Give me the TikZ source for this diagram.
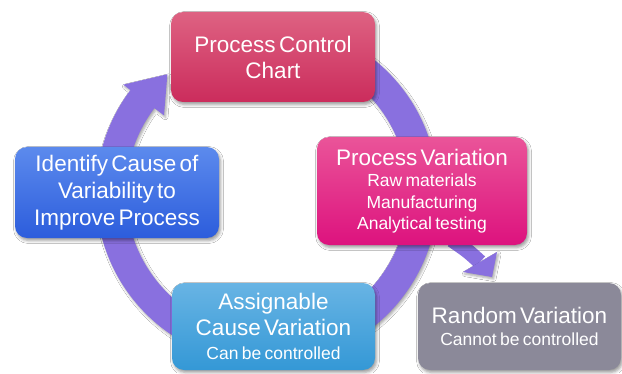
\documentclass[tikz,border=0pt]{standalone}
\usepackage{fontspec}
\setmainfont[WordSpace=1.3]{Liberation Sans}
\usetikzlibrary{shadows.blur,calc}
\definecolor{ringc}{RGB}{137,112,223}
\definecolor{pcctop}{RGB}{222,98,130}
\definecolor{pccbot}{RGB}{203,44,92}
\definecolor{pvtop}{RGB}{234,84,153}
\definecolor{pvbot}{RGB}{221,18,126}
\definecolor{idtop}{RGB}{92,138,237}
\definecolor{idbot}{RGB}{44,93,220}
\definecolor{astop}{RGB}{104,180,228}
\definecolor{asbot}{RGB}{52,152,214}
\definecolor{rvfill}{RGB}{139,137,153}
\begin{document}
\begin{tikzpicture}[x=1pt,y=1pt,
  box/.style={rounded corners=12pt, inner sep=0pt, text=white, align=center,
    blur shadow={shadow xshift=1.5pt,shadow yshift=-2.5pt,shadow blur radius=3pt,shadow opacity=40}},
  ringshadow/.style={blur shadow={shadow xshift=1.5pt,shadow yshift=-2pt,shadow blur radius=2.5pt,shadow opacity=35}}
]
\useasboundingbox (0,0) rectangle (622,373);
\fill[white] (0,0) rectangle (622,373);

% cycle ring with arrowhead
\coordinate (c) at (267,180);
\begin{scope}[shift={(c)}]
  \fill[ringc, ringshadow] (100:171) arc[start angle=100, end angle=-217, radius=171]
    -- (143:180) -- (130:155) -- (143:129) -- (143:141)
    arc[start angle=-217, end angle=100, radius=141] -- cycle;
\end{scope}

% branch arrow from Process Variation towards Random Variation
\coordinate (bs) at (452,133);
\coordinate (bm) at (480,111);
\draw[ringc, line width=15pt] (bs) .. controls (468,122) .. (bm);
\fill[ringc, ringshadow] (463,101) -- (492,96) -- (497,121) -- cycle;

% boxes
\node[box, minimum width=204pt, minimum height=90pt, text width=200pt,
  top color=pcctop, bottom color=pccbot] (pcc) at (273,316)
  {\fontsize{22.5}{26}\selectfont Process Control\\Chart\par};

\node[box, minimum width=210pt, minimum height=108pt, text width=206pt,
  top color=pvtop, bottom color=pvbot] (pv) at (422,182)
  {{\fontsize{22.5}{26}\selectfont Process Variation\par}%
   \fontsize{17.5}{21.5}\selectfont Raw materials\\Manufacturing\\Analytical testing\par};

\node[box, minimum width=204pt, minimum height=91pt, text width=200pt,
  top color=idtop, bottom color=idbot] (id) at (117,180.5)
  {\fontsize{22.5}{27}\selectfont Identify Cause of\\Variability to\\Improve Process\par};

\node[box, minimum width=203pt, minimum height=87pt, text width=199pt,
  top color=astop, bottom color=asbot] (as) at (273.5,46.5)
  {{\fontsize{22.5}{26}\selectfont Assignable\\Cause Variation\par}%
   \fontsize{17.5}{23.5}\selectfont Can be controlled\par};

\node[box, minimum width=203pt, minimum height=87pt, text width=199pt,
  fill=rvfill] (rv) at (519.5,46.5)
  {{\fontsize{22.5}{26}\selectfont Random Variation\par}%
   \fontsize{17.5}{22}\selectfont Cannot be controlled\par};
\end{tikzpicture}
\end{document}
